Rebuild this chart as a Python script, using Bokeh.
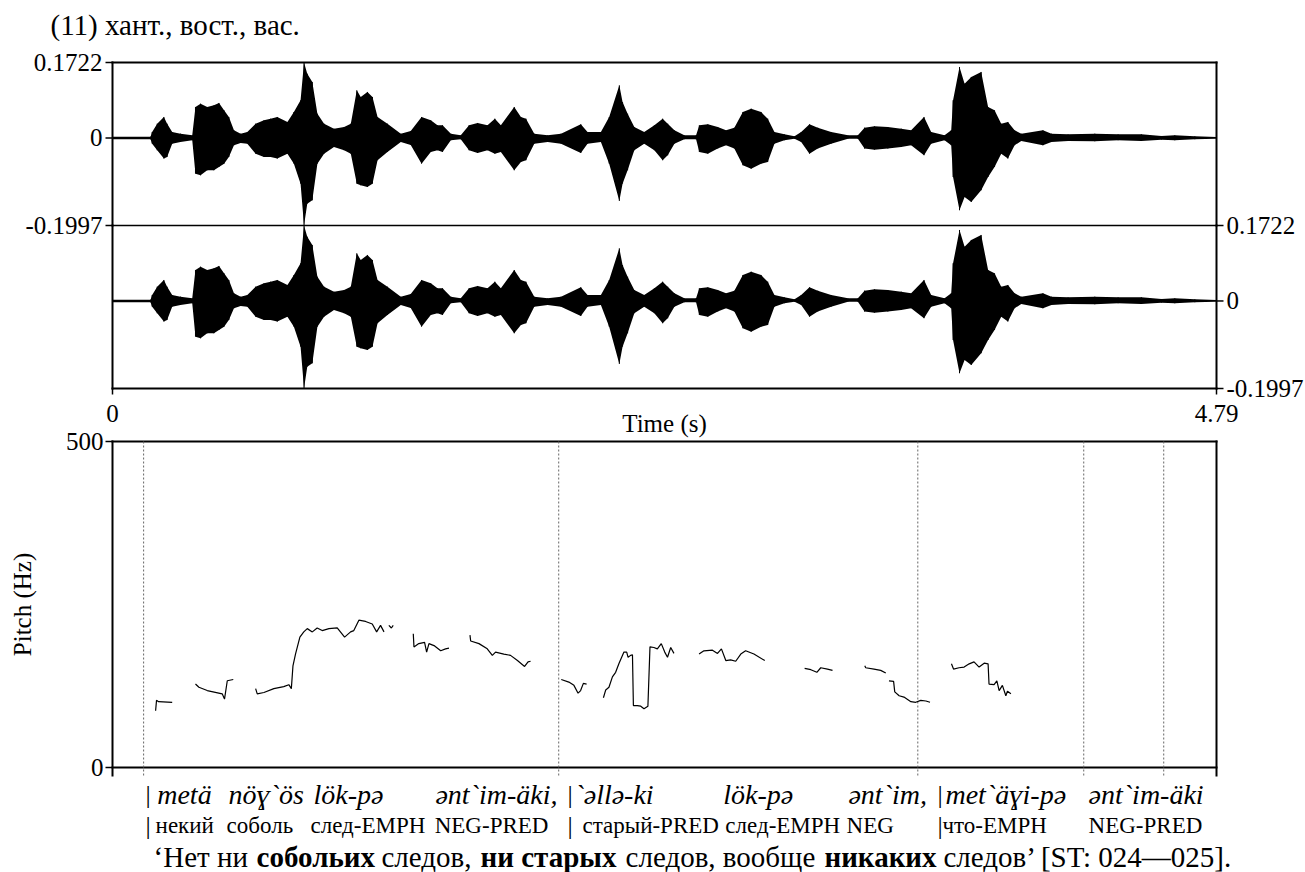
import math
from bokeh.plotting import figure
from bokeh.models import Range1d
from bokeh.embed import file_html
from bokeh.resources import INLINE
from bokeh.core.properties import value

# ---------------- data ----------------
T_END = 4.79
AMP_MAX = 0.1722
AMP_MIN = -0.1997
PITCH_MAX = 500
AMP_TICKS = [AMP_MAX, 0, AMP_MIN]
AMP_TICK_LABELS = ["0.1722", "0", "-0.1997"]
TIME_TICKS = [0, T_END]
TIME_TICK_LABELS = ["0", "4.79"]
PITCH_TICKS = [0, PITCH_MAX]
PITCH_TICK_LABELS = ["0", "500"]

# waveform envelope
WAVE_T = [0.000, 0.165, 0.172, 0.194, 0.223, 0.237, 0.259, 0.295, 0.346, 0.360, 0.382, 0.411, 0.440, 0.462,
          0.484, 0.505, 0.527, 0.556, 0.585, 0.621, 0.657, 0.686, 0.715, 0.759, 0.787, 0.816, 0.831, 0.845,
          0.867, 0.889, 0.918, 0.961, 1.005, 1.034, 1.060, 1.077, 1.106, 1.128, 1.150, 1.193, 1.251, 1.294,
          1.341, 1.381, 1.410, 1.432, 1.468, 1.511, 1.547, 1.584, 1.627, 1.659, 1.685, 1.743, 1.772, 1.794,
          1.830, 1.888, 1.946, 2.032, 2.061, 2.119, 2.155, 2.199, 2.213, 2.235, 2.264, 2.307, 2.351, 2.387,
          2.409, 2.438, 2.481, 2.532, 2.546, 2.583, 2.626, 2.662, 2.698, 2.735, 2.771, 2.814, 2.843, 2.872,
          2.915, 2.959, 2.988, 3.024, 3.060, 3.118, 3.191, 3.234, 3.263, 3.306, 3.364, 3.422, 3.465, 3.521,
          3.552, 3.610, 3.639, 3.647, 3.675, 3.697, 3.726, 3.769, 3.799, 3.827, 3.856, 3.885, 3.914, 3.943,
          4.037, 4.074, 4.146, 4.262, 4.363, 4.464, 4.551, 4.609, 4.696, 4.790]
WAVE_UP = [0.003, 0.003, 0.0137, 0.0327, 0.0479, 0.0327, 0.0137, 0.0099, 0.006, 0.0707, 0.0783, 0.0707, 0.0745,
           0.0799, 0.0631, 0.0479, 0.0175, 0.0099, 0.0137, 0.0327, 0.0403, 0.0441, 0.0479, 0.0365, 0.0593,
           0.086, 0.1722, 0.1468, 0.1278, 0.0555, 0.0327, 0.0213, 0.0251, 0.0327, 0.1088, 0.0935, 0.105,
           0.0935, 0.0479, 0.0327, 0.0099, 0.016, 0.0479, 0.0403, 0.029, 0.029, 0.0099, 0.0061, 0.029, 0.0342,
           0.029, 0.0441, 0.029, 0.0707, 0.0479, 0.0441, 0.0099, 0.0061, 0.0099, 0.0312, 0.0137, 0.0137,
           0.0479, 0.1202, 0.0821, 0.0555, 0.0251, 0.0137, 0.029, 0.0441, 0.0327, 0.0175, 0.0061, 0.0061,
           0.029, 0.0312, 0.0251, 0.0175, 0.0236, 0.0593, 0.0669, 0.0593, 0.0441, 0.0137, 0.0084, 0.0039,
           0.0137, 0.0312, 0.0236, 0.0137, 0.0061, 0.0061, 0.0236, 0.0266, 0.0251, 0.0213, 0.0175, 0.0479,
           0.0137, 0.0061, 0.0175, 0.086, 0.162, 0.1239, 0.1392, 0.1506, 0.0707, 0.0631, 0.0327, 0.0365,
           0.0175, 0.0099, 0.0175, 0.0099, 0.0084, 0.0099, 0.0084, 0.0084, 0.0046, 0.0061, 0.0039, 0.002]
WAVE_LO = [-0.003, -0.003, -0.013, -0.0281, -0.0471, -0.0433, -0.013, -0.0091, -0.0053, -0.0814, -0.0852,
           -0.0738, -0.0738, -0.0662, -0.0586, -0.0433, -0.0167, -0.0114, -0.013, -0.0358, -0.0433, -0.0433,
           -0.0471, -0.0358, -0.0586, -0.1042, -0.1997, -0.1498, -0.1422, -0.0586, -0.0358, -0.0205, -0.0281,
           -0.0358, -0.1042, -0.108, -0.1118, -0.1042, -0.0509, -0.0319, -0.0091, -0.016, -0.0586, -0.0319,
           -0.0281, -0.0319, -0.0053, -0.003, -0.0281, -0.0342, -0.0281, -0.0358, -0.0319, -0.0738, -0.0548,
           -0.0509, -0.013, -0.0091, -0.013, -0.0342, -0.013, -0.0091, -0.0586, -0.1437, -0.1042, -0.0738,
           -0.0281, -0.013, -0.0281, -0.0509, -0.0395, -0.013, -0.003, -0.003, -0.0319, -0.0358, -0.0243,
           -0.0167, -0.0243, -0.0623, -0.07, -0.0586, -0.0548, -0.013, -0.0053, -0.002, -0.0091, -0.0358,
           -0.0243, -0.013, -0.002, -0.002, -0.0243, -0.0266, -0.0243, -0.0205, -0.0167, -0.0395, -0.013,
           -0.0053, -0.0167, -0.089, -0.165, -0.1346, -0.146, -0.1193, -0.089, -0.0662, -0.0358, -0.0471,
           -0.0167, -0.0068, -0.0167, -0.0091, -0.0068, -0.0076, -0.0053, -0.0068, -0.0039, -0.0053, -0.003,
           -0.002]

# pitch track segments (time s, Hz)
PITCH_T = [
    [0.187, 0.191, 0.200, 0.259],
    [0.360, 0.375, 0.411, 0.476, 0.486, 0.498, 0.524],
    [0.621, 0.628, 0.657, 0.700, 0.743, 0.765, 0.776, 0.783, 0.794, 0.813, 0.830, 0.845, 0.867, 0.888,
     0.910, 0.939, 0.975, 1.007, 1.033, 1.047, 1.069, 1.098, 1.127, 1.146, 1.163, 1.178],
    [1.199, 1.210, 1.218],
    [1.305, 1.308, 1.329, 1.354, 1.363, 1.373, 1.395, 1.424, 1.445, 1.460],
    [1.551, 1.554, 1.590, 1.626, 1.648, 1.662, 1.698, 1.727, 1.757, 1.788, 1.803, 1.814],
    [1.947, 1.980, 2.002, 2.020, 2.031, 2.043, 2.057],
    [2.130, 2.140, 2.154, 2.169, 2.183, 2.197, 2.219, 2.231, 2.237, 2.248, 2.256, 2.260, 2.277, 2.292,
     2.306, 2.323, 2.332, 2.349, 2.364, 2.381, 2.396, 2.408, 2.422, 2.436],
    [2.545, 2.566, 2.603, 2.625, 2.642, 2.661, 2.682, 2.704, 2.726, 2.747, 2.783, 2.830],
    [3.003, 3.030, 3.056, 3.073, 3.102, 3.124],
    [3.264, 3.268, 3.304, 3.333, 3.355],
    [3.369, 3.389, 3.394, 3.413, 3.434, 3.464, 3.485, 3.507, 3.529, 3.547],
    [3.640, 3.649, 3.673, 3.695, 3.717, 3.738, 3.760, 3.782, 3.799, 3.803, 3.825, 3.837, 3.847, 3.861,
     3.876, 3.883, 3.898],
]
PITCH_HZ = [
    [87, 103, 101, 100],
    [128, 123, 118, 113, 105, 133, 135],
    [121, 113, 115, 121, 124, 127, 121, 156, 174, 200, 208, 213, 208, 214, 210, 213, 214, 200, 208, 210,
     226, 224, 220, 208, 218, 208],
    [218, 214, 218],
    [205, 185, 190, 192, 177, 190, 187, 179, 182, 183],
    [203, 194, 190, 182, 172, 177, 174, 172, 164, 155, 162, 163],
    [135, 131, 126, 114, 118, 129, 128],
    [107, 119, 123, 139, 146, 159, 177, 177, 169, 172, 173, 95, 95, 94, 90, 94, 185, 184, 182, 190, 177,
     169, 184, 175],
    [174, 179, 180, 175, 182, 164, 165, 163, 174, 179, 174, 164],
    [152, 150, 146, 153, 151, 149],
    [156, 153, 151, 149, 145],
    [133, 132, 116, 110, 108, 101, 100, 103, 102, 100],
    [159, 151, 153, 154, 159, 162, 154, 160, 159, 128, 127, 133, 118, 126, 110, 117, 113],
]

# tier boundaries (s)
BOUNDARIES = [0.135, 1.936, 3.494, 4.214, 4.561]

# interlinear gloss (start time of each word, s)
BAR_T = [0.143, 1.974, 3.579]
WORD_T = [0.194, 0.503, 0.872, 1.401, 2.004, 2.650, 3.193, 3.614, 4.235]
WORDS = ["metä", "nöɣ`ös", "lök-pə", "ənt`im-äki,", "`əllə-ki", "lök-pə", "ənt`im,", "met`äɣi-pə", "ənt`im-äki"]
GLOSS_T = [0.187, 0.495, 0.859, 1.398, 2.039, 2.659, 3.185, 3.601, 4.235]
GLOSSES = ["некий", "соболь", "след-EMPH", "NEG-PRED", "старый-PRED", "след-EMPH", "NEG", "что-EMPH", "NEG-PRED"]
TRANS_T = [0.178, 0.625, 1.167, 1.597, 2.226, 3.089, 3.605]
TRANS = ["‘Нет ни", "собольих", "следов,", "ни старых", "следов, вообще", "никаких", "следов’ [ST: 024—025]."]
TRANS_BOLD = [False, True, False, True, False, True, False]

TITLE = "(11) хант., вост., вас."

# ---------------- layout (pixels) ----------------
FONT = value("Liberation Serif")
W, H = 1305, 872
LEFT, RIGHT = 112, 1216
WAVE_TOP, WAVE_MID, WAVE_BOT = 62, 225, 388
PITCH_TOP, PITCH_ZERO, PITCH_BOT = 441, 767, 775
PPS = (RIGHT - LEFT) / T_END
TICK = 7


def yrange(v_a, px_a, v_b, px_b):
    s = (v_b - v_a) / (px_b - px_a)
    return Range1d(start=v_a + (H - px_a) * s, end=v_a + (0 - px_a) * s)


p = figure(width=W, height=H, output_backend="svg", toolbar_location=None,
           x_range=Range1d(-LEFT / PPS, (W - LEFT) / PPS),
           y_range=yrange(AMP_MAX, WAVE_TOP, AMP_MIN, WAVE_MID),
           x_axis_type=None, y_axis_type=None,
           min_border_left=0, min_border_right=0, min_border_top=0, min_border_bottom=0)
p.extra_y_ranges = {"ch2": yrange(AMP_MAX, WAVE_MID, AMP_MIN, WAVE_BOT),
                    "pitch": yrange(PITCH_MAX, PITCH_TOP, 0, PITCH_ZERO)}
p.grid.visible = False
p.outline_line_color = None
p.background_fill_color = "white"
p.border_fill_color = "white"

LINE = dict(line_color="black", line_width=2, line_cap="square")
TXT = dict(text_font=FONT, text_color="black")

# ---- waveform: two channels ----
p.varea(x=WAVE_T, y1=WAVE_LO, y2=WAVE_UP, fill_color="black")
p.segment(x0=WAVE_T, y0=WAVE_LO, x1=WAVE_T, y1=WAVE_UP, line_color="black", line_width=1)
p.varea(x=WAVE_T, y1=WAVE_LO, y2=WAVE_UP, fill_color="black", y_range_name="ch2")
p.segment(x0=WAVE_T, y0=WAVE_LO, x1=WAVE_T, y1=WAVE_UP, line_color="black", line_width=1,
          y_range_name="ch2")

# frame of the waveform panel
p.segment(x0=[0, 0, T_END], y0=[AMP_MAX, AMP_MAX, AMP_MAX], x1=[T_END, 0, T_END], y1=[AMP_MAX, AMP_MIN, AMP_MIN],
          **LINE)
p.segment(x0=[0, 0, T_END], y0=[AMP_MIN, AMP_MAX, AMP_MAX], x1=[T_END, 0, T_END], y1=[AMP_MIN, AMP_MIN, AMP_MIN],
          y_range_name="ch2", **LINE)
p.segment(x0=[0], y0=[AMP_MIN], x1=[T_END], y1=[AMP_MIN], line_color="black", line_width=1.5)

# ticks + labels: left (channel 1), right (channel 2), bottom (time)
p.ray(x=[0] * 3, y=AMP_TICKS, length=TICK, length_units="screen", angle=math.pi, line_color="black",
      line_width=1.5)
p.text(x=[0] * 3, y=AMP_TICKS, text=AMP_TICK_LABELS, x_offset=-(TICK + 3), text_align="right",
       text_baseline="middle", text_font_size=value("25px"), **TXT)
p.ray(x=[T_END] * 3, y=AMP_TICKS, length=TICK, length_units="screen", angle=0, line_color="black",
      line_width=1.5, y_range_name="ch2")
p.text(x=[T_END] * 3, y=AMP_TICKS, text=AMP_TICK_LABELS, x_offset=TICK + 3, text_align="left",
       text_baseline="middle", text_font_size=value("25px"), y_range_name="ch2", **TXT)
p.ray(x=TIME_TICKS, y=[AMP_MIN] * 2, length=6, length_units="screen", angle=-math.pi / 2,
      line_color="black", line_width=1.5, y_range_name="ch2")
p.text(x=TIME_TICKS, y=[AMP_MIN] * 2, text=TIME_TICK_LABELS, y_offset=25, text_align="center",
       text_baseline="middle", text_font_size=value("25px"), y_range_name="ch2", **TXT)
p.text(x=[T_END / 2], y=[AMP_MIN], text=["Time (s)"], y_offset=35, text_align="center",
       text_baseline="middle", text_font_size=value("25px"), y_range_name="ch2", **TXT)

# title
p.text(x=[0], y=[AMP_MAX], text=[TITLE], x_offset=50 - LEFT, y_offset=-(WAVE_TOP - 24), text_align="left",
       text_baseline="middle", text_font_size=value("29px"), **TXT)

# ---- pitch panel ----
bot_hz = -(PITCH_BOT - PITCH_ZERO) * PITCH_MAX / (PITCH_ZERO - PITCH_TOP)
p.segment(x0=[0, T_END, 0, 0], y0=[bot_hz, bot_hz, PITCH_MAX, 0], x1=[0, T_END, T_END, T_END],
          y1=[PITCH_MAX, PITCH_MAX, PITCH_MAX, 0], y_range_name="pitch", **LINE)
p.segment(x0=BOUNDARIES, y0=[bot_hz] * len(BOUNDARIES), x1=BOUNDARIES, y1=[PITCH_MAX] * len(BOUNDARIES),
          y_range_name="pitch", line_color="#666666", line_width=1, line_dash="2 2")
p.multi_line(xs=PITCH_T, ys=PITCH_HZ, line_color="black", line_width=1.2, y_range_name="pitch")
p.ray(x=[0, 0], y=PITCH_TICKS, length=TICK, length_units="screen", angle=math.pi, line_color="black",
      line_width=1.5, y_range_name="pitch")
p.text(x=[0, 0], y=PITCH_TICKS, text=PITCH_TICK_LABELS, x_offset=-(TICK + 2), text_align="right",
       text_baseline="middle", text_font_size=value("25px"), y_range_name="pitch", **TXT)
p.text(x=[0], y=[PITCH_MAX / 2], text=["Pitch (Hz)"], x_offset=22 - LEFT, angle=math.pi / 2,
       text_align="center", text_baseline="middle", text_font_size=value("25px"), y_range_name="pitch", **TXT)

# ---- interlinear gloss under the pitch panel (row centres) ----
ROW1, ROW2, ROW3 = 794 - PITCH_ZERO, 825 - PITCH_ZERO, 856 - PITCH_ZERO
p.text(x=BAR_T, y=[0] * 3, text=["|"] * 3, y_offset=ROW1, text_align="left", text_baseline="middle",
       text_font_size=value("26px"), y_range_name="pitch", **TXT)
p.text(x=BAR_T, y=[0] * 3, text=["|"] * 3, y_offset=ROW2, text_align="left", text_baseline="middle",
       text_font_size=value("26px"), y_range_name="pitch", **TXT)
p.text(x=WORD_T, y=[0] * len(WORDS), text=WORDS, y_offset=ROW1, text_align="left", text_baseline="middle",
       text_font_size=value("28px"), text_font_style="italic", y_range_name="pitch", **TXT)
p.text(x=GLOSS_T, y=[0] * len(GLOSSES), text=GLOSSES, y_offset=ROW2, text_align="left",
       text_baseline="middle", text_font_size=value("23px"), y_range_name="pitch", **TXT)
for t, s, bold in zip(TRANS_T, TRANS, TRANS_BOLD):
    p.text(x=[t], y=[0], text=[s], y_offset=ROW3, text_align="left", text_baseline="middle",
           text_font_size=value("29px"), text_font_style="bold" if bold else "normal",
           y_range_name="pitch", **TXT)

open("out.html", "w").write(file_html(p, INLINE))
